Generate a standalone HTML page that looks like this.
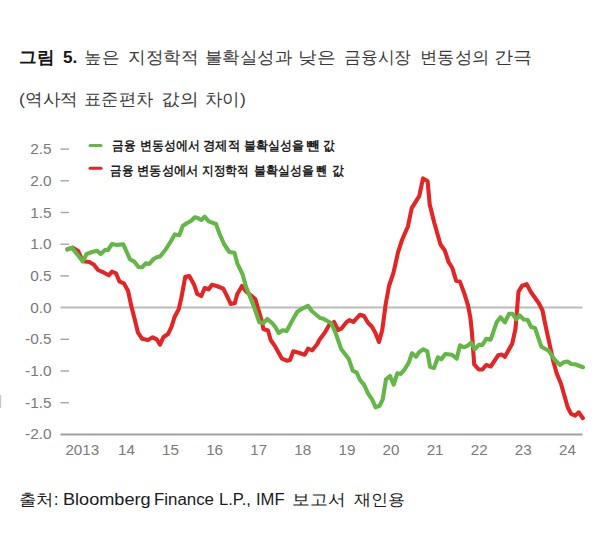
<!DOCTYPE html>
<html><head><meta charset="utf-8">
<style>
html,body{margin:0;padding:0;background:#fff;width:600px;height:535px;overflow:hidden;}
body{position:relative;font-family:"Liberation Sans",sans-serif;}
.t{position:absolute;white-space:nowrap;line-height:1;transform-origin:0 0;}
svg{position:absolute;left:0;top:0;}
</style></head><body>
<svg width="600" height="535" viewBox="0 0 600 535">
<g fill="#7a7a7a" font-family="Liberation Sans, sans-serif" font-size="15.4px"><text x="51.6" y="154.1" text-anchor="end">2.5</text><text x="51.6" y="185.8" text-anchor="end">2.0</text><text x="51.6" y="217.5" text-anchor="end">1.5</text><text x="51.6" y="249.2" text-anchor="end">1.0</text><text x="51.6" y="280.9" text-anchor="end">0.5</text><text x="51.6" y="312.6" text-anchor="end">0.0</text><text x="51.6" y="344.3" text-anchor="end">-0.5</text><text x="51.6" y="376.0" text-anchor="end">-1.0</text><text x="51.6" y="407.7" text-anchor="end">-1.5</text><text x="51.6" y="439.4" text-anchor="end">-2.0</text></g>
<g fill="#7a7a7a" font-family="Liberation Sans, sans-serif" font-size="15.2px"><text x="82.3" y="455" text-anchor="middle">2013</text><text x="126.4" y="455" text-anchor="middle">14</text><text x="170.5" y="455" text-anchor="middle">15</text><text x="214.6" y="455" text-anchor="middle">16</text><text x="258.7" y="455" text-anchor="middle">17</text><text x="302.8" y="455" text-anchor="middle">18</text><text x="346.9" y="455" text-anchor="middle">19</text><text x="391.0" y="455" text-anchor="middle">20</text><text x="435.1" y="455" text-anchor="middle">21</text><text x="479.2" y="455" text-anchor="middle">22</text><text x="523.3" y="455" text-anchor="middle">23</text><text x="567.4" y="455" text-anchor="middle">24</text></g>
<g stroke="#a6a6a6" stroke-width="1.4"><line x1="60.5" y1="149.1" x2="69" y2="149.1"/><line x1="60.5" y1="180.8" x2="69" y2="180.8"/><line x1="60.5" y1="212.5" x2="69" y2="212.5"/><line x1="60.5" y1="244.2" x2="69" y2="244.2"/><line x1="60.5" y1="275.9" x2="69" y2="275.9"/><line x1="60.5" y1="339.3" x2="69" y2="339.3"/><line x1="60.5" y1="371.0" x2="69" y2="371.0"/><line x1="60.5" y1="402.7" x2="69" y2="402.7"/></g>
<line x1="60.5" y1="307.6" x2="582.5" y2="307.6" stroke="#babcbc" stroke-width="2"/>
<line x1="60.5" y1="434.4" x2="582.5" y2="434.4" stroke="#a0a2a2" stroke-width="2"/>
<polyline points="67.5,249.3 72.5,247.6 78.2,251.0 82.7,261.3 89.3,262.0 94.0,264.7 98.0,270.0 104.0,272.7 108.7,275.3 112.0,271.6 116.0,273.3 119.3,281.3 123.8,283.3 128.0,290.7 131.3,306.0 134.7,319.3 138.0,332.7 142.0,338.7 148.0,340.0 152.7,337.3 156.7,339.3 160.0,344.7 163.3,337.3 168.0,334.0 171.3,327.3 174.7,316.7 178.7,309.3 181.3,298.0 185.3,276.7 189.3,276.0 194.0,284.5 197.3,294.0 201.3,296.0 204.7,288.0 208.7,289.3 212.0,284.7 216.7,286.0 223.3,288.7 227.3,296.7 230.7,304.0 234.7,303.3 237.3,294.0 242.0,286.0 246.0,291.3 252.7,296.8 255.3,299.0 258.0,308.3 262.0,321.7 263.3,329.0 268.0,330.5 270.7,340.0 275.3,346.7 282.0,358.7 286.7,360.7 290.0,360.0 293.3,351.3 298.7,352.7 304.7,354.7 308.0,348.7 312.3,350.3 317.3,344.0 319.3,340.0 324.7,332.7 329.3,324.7 334.0,322.0 338.0,330.0 341.3,328.7 346.0,322.7 349.3,320.0 353.3,322.0 360.0,314.7 364.0,316.0 368.0,322.7 372.0,326.7 375.3,332.7 379.0,342.0 382.3,329.7 385.7,304.0 389.0,286.0 393.5,272.6 398.0,252.4 402.0,240.0 408.0,226.2 411.7,208.2 419.2,196.2 423.0,178.4 427.6,181.3 429.7,204.5 434.2,222.5 440.5,244.5 444.8,250.5 448.6,262.0 452.3,268.0 456.1,280.7 459.8,281.4 464.3,293.4 468.0,305.3 470.3,317.3 472.0,333.3 474.2,364.3 478.7,369.5 482.4,369.5 486.2,365.0 490.7,366.5 498.1,355.3 501.9,354.6 504.9,356.8 512.3,343.4 515.5,328.5 518.5,291.7 522.2,285.7 526.7,284.2 531.2,292.5 538.7,303.0 542.5,310.5 545.5,325.5 548.8,340.6 553.4,361.8 556.8,373.6 561.0,383.7 567.7,407.2 571.1,413.9 575.3,415.6 578.7,412.3 582.9,418.2" fill="none" stroke="#e32526" stroke-width="4.1" stroke-linejoin="round" stroke-linecap="round"/>
<polyline points="67.3,249.3 72.0,247.9 82.7,261.2 86.7,254.0 92.0,252.0 97.3,250.7 100.7,254.0 105.3,249.7 108.0,250.0 112.0,244.0 117.3,244.9 123.3,244.3 130.0,259.3 134.0,261.3 138.7,267.3 142.0,267.3 146.0,263.3 149.3,264.0 153.3,259.3 156.7,257.3 160.0,256.5 165.3,250.0 170.0,242.7 174.7,234.4 179.3,235.3 182.7,226.0 186.7,223.3 191.3,220.7 194.7,217.3 198.0,218.0 201.3,220.0 204.7,216.7 208.7,221.3 216.0,224.0 219.3,233.3 224.0,244.0 229.3,252.0 234.4,252.7 237.3,263.3 242.7,274.7 246.0,286.7 250.0,296.7 254.7,308.7 259.3,322.3 263.3,323.0 267.3,319.0 272.0,323.0 275.3,327.0 278.7,333.0 282.7,330.3 286.7,331.0 292.0,321.0 297.3,311.7 302.7,308.3 308.0,305.8 312.0,311.3 320.0,318.0 323.3,318.7 331.3,323.3 336.0,334.0 341.3,349.3 348.7,358.7 352.7,370.7 356.7,372.7 360.0,380.0 364.0,384.7 368.0,393.3 372.0,399.3 375.5,407.3 379.5,405.9 382.7,399.3 386.0,379.3 390.0,376.0 393.7,384.7 397.3,373.3 400.7,374.0 404.7,369.3 408.7,362.7 412.0,353.3 416.0,356.7 419.3,352.0 423.3,349.3 427.3,351.3 430.0,366.7 434.0,368.0 438.0,357.3 441.3,359.3 445.3,354.0 452.0,354.7 456.7,358.7 460.0,345.3 464.0,347.3 468.0,345.3 471.3,342.7 474.7,349.3 478.7,344.9 482.4,344.9 486.2,338.9 490.7,339.6 496.6,322.4 500.4,317.2 504.9,322.4 509.0,313.8 512.5,313.8 516.2,319.3 519.5,315.3 523.7,319.5 527.5,319.8 531.2,327.0 535.0,328.0 541.3,346.7 548.8,350.8 554.5,359.5 560.0,365.0 563.5,362.3 567.5,361.5 571.2,364.0 575.0,364.3 583.0,367.2" fill="none" stroke="#62b746" stroke-width="4.1" stroke-linejoin="round" stroke-linecap="round"/>
<line x1="90" y1="145.5" x2="101" y2="145.5" stroke="#62b746" stroke-width="3" stroke-linecap="round"/>
<line x1="90" y1="168.3" x2="101" y2="168.3" stroke="#e32526" stroke-width="3" stroke-linecap="round"/>
<rect x="0" y="395" width="1.2" height="13" fill="#c8c8c8"/>
</svg>
<span id="w0" class="t" style="left:19.43px;top:49.45px;font-size:17.00px;font-weight:bold;color:#161616;transform:scaleX(1.0336)">그림</span>
<span id="w1" class="t" style="left:63.00px;top:49.45px;font-size:17.00px;font-weight:bold;color:#161616;transform:scaleX(1.0069)">5.</span>
<span id="w2" class="t" style="left:83.97px;top:49.45px;font-size:17.00px;font-weight:normal;color:#3a3a3a;transform:scaleX(1.0324)">높은</span>
<span id="w3" class="t" style="left:128.19px;top:49.45px;font-size:17.00px;font-weight:normal;color:#3a3a3a;transform:scaleX(1.0386)">지정학적</span>
<span id="w4" class="t" style="left:204.57px;top:49.45px;font-size:17.00px;font-weight:normal;color:#3a3a3a;transform:scaleX(1.0238)">불확실성과</span>
<span id="w5" class="t" style="left:297.81px;top:49.45px;font-size:17.00px;font-weight:normal;color:#3a3a3a;transform:scaleX(1.0968)">낮은</span>
<span id="w6" class="t" style="left:343.50px;top:49.45px;font-size:17.00px;font-weight:normal;color:#3a3a3a;transform:scaleX(0.9854)">금융시장</span>
<span id="w7" class="t" style="left:419.97px;top:49.45px;font-size:17.00px;font-weight:normal;color:#3a3a3a;transform:scaleX(1.0156)">변동성의</span>
<span id="w8" class="t" style="left:493.84px;top:49.45px;font-size:17.00px;font-weight:normal;color:#3a3a3a;transform:scaleX(1.1259)">간극</span>
<span id="w9" class="t" style="left:18.96px;top:91.45px;font-size:17.00px;font-weight:normal;color:#3a3a3a;transform:scaleX(1.0374)">(역사적</span>
<span id="w10" class="t" style="left:83.99px;top:91.45px;font-size:17.00px;font-weight:normal;color:#3a3a3a;transform:scaleX(1.0149)">표준편차</span>
<span id="w11" class="t" style="left:160.87px;top:91.45px;font-size:17.00px;font-weight:normal;color:#3a3a3a;transform:scaleX(1.0978)">값의</span>
<span id="w12" class="t" style="left:204.97px;top:91.45px;font-size:17.00px;font-weight:normal;color:#3a3a3a;transform:scaleX(1.0271)">차이)</span>
<span id="w13" class="t" style="left:112.33px;top:139.62px;font-size:12.50px;font-weight:bold;color:#1e1e1e;transform:scaleX(0.8978)">금융</span>
<span id="w14" class="t" style="left:139.60px;top:139.62px;font-size:12.50px;font-weight:bold;color:#1e1e1e;transform:scaleX(0.9173)">변동성에서</span>
<span id="w15" class="t" style="left:202.81px;top:139.62px;font-size:12.50px;font-weight:bold;color:#1e1e1e;transform:scaleX(0.9481)">경제적</span>
<span id="w16" class="t" style="left:243.93px;top:139.62px;font-size:12.50px;font-weight:bold;color:#1e1e1e;transform:scaleX(0.9149)">불확실성을</span>
<span id="w17" class="t" style="left:305.57px;top:139.62px;font-size:12.50px;font-weight:bold;color:#1e1e1e;transform:scaleX(1.0892)">뺀</span>
<span id="w18" class="t" style="left:322.89px;top:139.62px;font-size:12.50px;font-weight:bold;color:#1e1e1e;transform:scaleX(0.8949)">값</span>
<span id="w19" class="t" style="left:109.81px;top:164.62px;font-size:12.50px;font-weight:bold;color:#1e1e1e;transform:scaleX(0.8891)">금융</span>
<span id="w20" class="t" style="left:136.82px;top:164.62px;font-size:12.50px;font-weight:bold;color:#1e1e1e;transform:scaleX(0.9453)">변동성에서</span>
<span id="w21" class="t" style="left:202.35px;top:164.62px;font-size:12.50px;font-weight:bold;color:#1e1e1e;transform:scaleX(0.9014)">지정학적</span>
<span id="w22" class="t" style="left:253.68px;top:164.62px;font-size:12.50px;font-weight:bold;color:#1e1e1e;transform:scaleX(0.9172)">불확실성을</span>
<span id="w23" class="t" style="left:316.47px;top:164.62px;font-size:12.50px;font-weight:bold;color:#1e1e1e;transform:scaleX(0.8652)">뺀</span>
<span id="w24" class="t" style="left:332.09px;top:164.62px;font-size:12.50px;font-weight:bold;color:#1e1e1e;transform:scaleX(0.9139)">값</span>
<span id="w25" class="t" style="left:18.91px;top:492.30px;font-size:16.00px;font-weight:normal;color:#1a1a1a;transform:scaleX(1.0882)">출처:</span>
<span id="w26" class="t" style="left:62.87px;top:492.30px;font-size:16.00px;font-weight:normal;color:#1a1a1a;transform:scaleX(1.1317)">Bloomberg</span>
<span id="w27" class="t" style="left:154.16px;top:492.30px;font-size:16.00px;font-weight:normal;color:#1a1a1a;transform:scaleX(1.0539)">Finance</span>
<span id="w28" class="t" style="left:218.74px;top:492.30px;font-size:16.00px;font-weight:normal;color:#1a1a1a;transform:scaleX(1.0357)">L.P.,</span>
<span id="w29" class="t" style="left:256.18px;top:492.30px;font-size:16.00px;font-weight:normal;color:#1a1a1a;transform:scaleX(1.0388)">IMF</span>
<span id="w30" class="t" style="left:291.89px;top:492.30px;font-size:16.00px;font-weight:normal;color:#1a1a1a;transform:scaleX(1.1111)">보고서</span>
<span id="w31" class="t" style="left:353.68px;top:492.30px;font-size:16.00px;font-weight:normal;color:#1a1a1a;transform:scaleX(1.0638)">재인용</span>
</body></html>
